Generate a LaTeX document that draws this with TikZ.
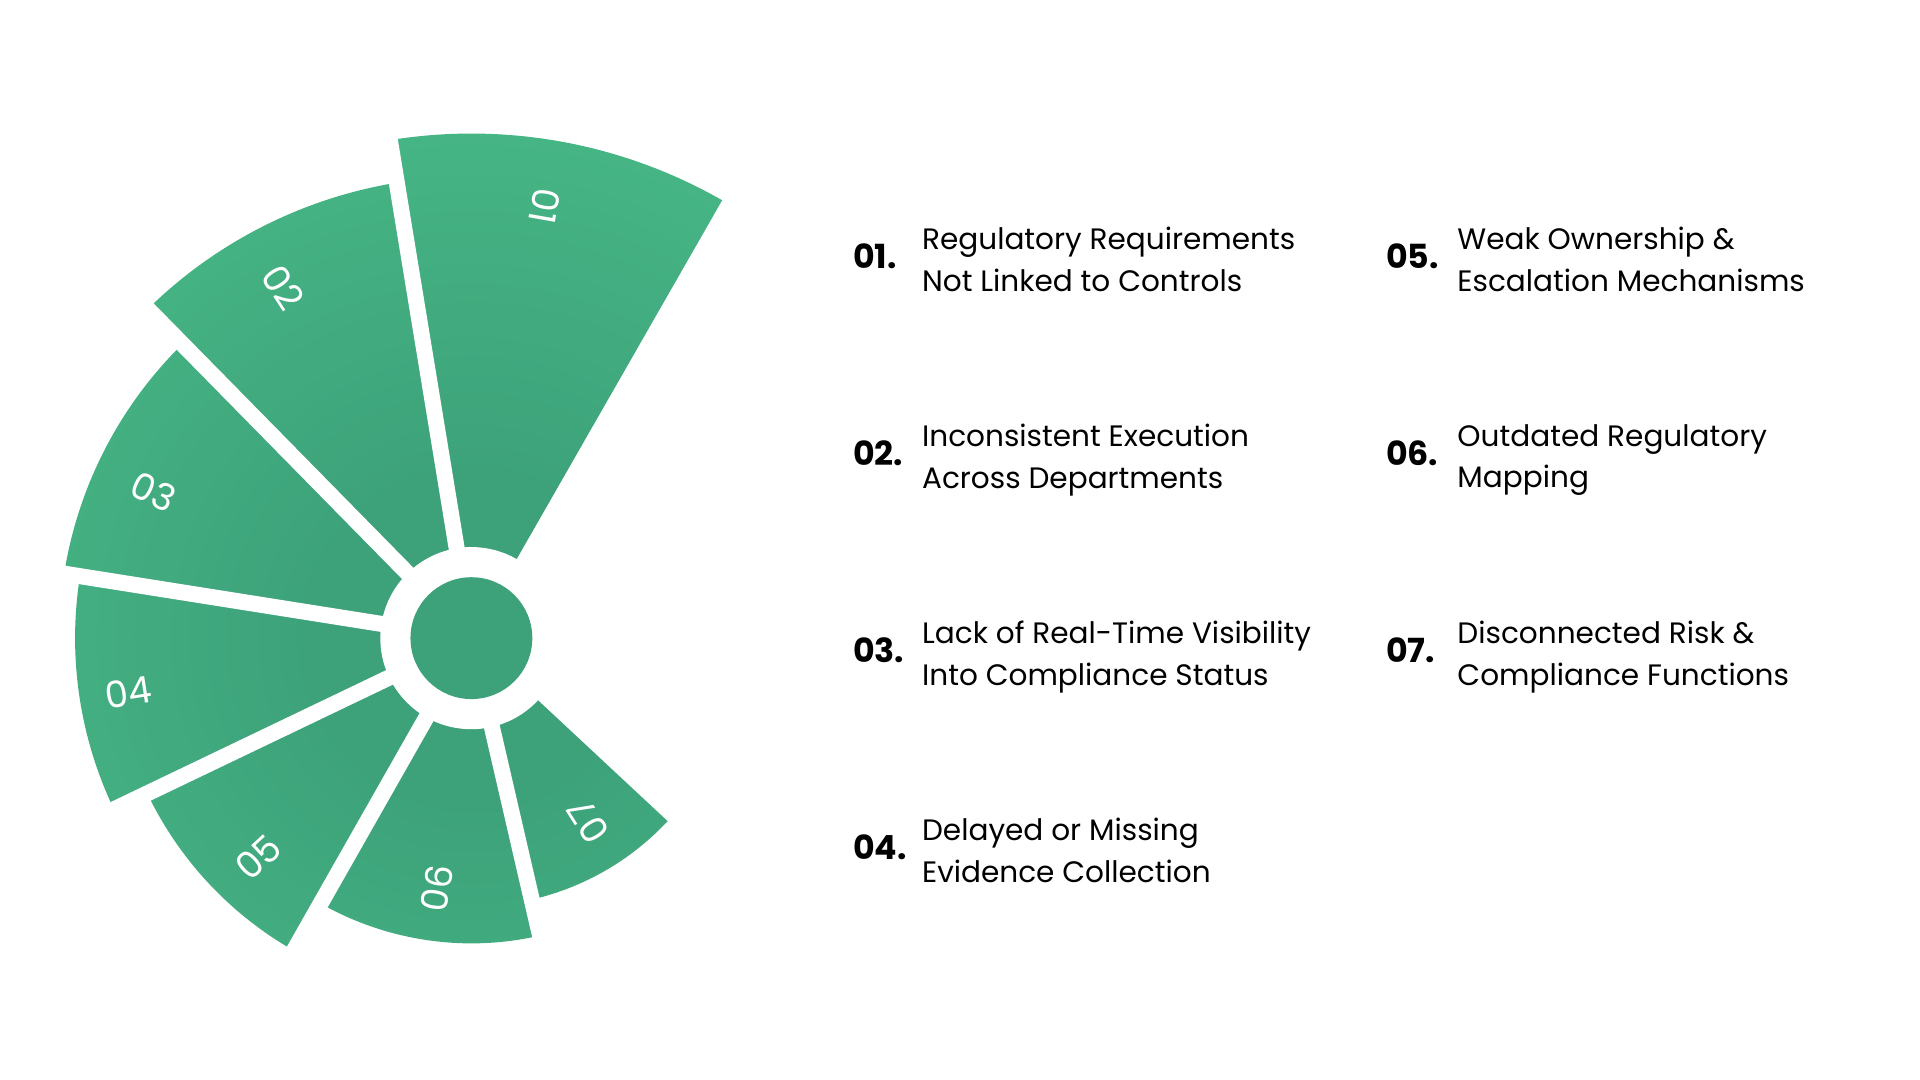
\documentclass[tikz,border=0pt]{standalone}
\usepackage{fontspec}
\setmainfont{Poppins}
\definecolor{gLight}{HTML}{4CC28C}
\definecolor{gDark}{HTML}{3DA27A}
\pgfdeclareradialshading{fan}{\pgfpoint{0bp}{0bp}}{color(0bp)=(gDark); color(8bp)=(gDark); color(36bp)=(gLight); color(50bp)=(gLight)}
\begin{document}
\begin{tikzpicture}[x=1pt,y=1pt,
  num/.style={text=white,font=\fontsize{30}{30}\selectfont,inner sep=0pt},
  gap/.style={white,line width=13pt},
  idx/.style={anchor=base west,font=\fontsize{27}{27}\selectfont\bfseries,inner sep=0pt},
  lbl/.style={anchor=north west,align=left,font=\fontsize{24}{34}\selectfont,inner sep=0pt}]
\useasboundingbox (0,0) rectangle (1560,877.5);
\coordinate (C) at (383,359);
\begin{scope}
\clip (C) -- ++(60.2:410) arc (60.2:99.3:410) -- cycle
      (C) -- ++(99.3:375) arc (99.3:134.5:375) -- cycle
      (C) -- ++(134.5:335) arc (134.5:171:335) -- cycle
      (C) -- ++(171:322) arc (171:205.6:322) -- cycle
      (C) -- ++(205.6:292) arc (205.6:240.4:292) -- cycle
      (C) -- ++(240.4:248) arc (240.4:283:248) -- cycle
      (C) -- ++(-77:218) arc (-77:-43:218) -- cycle;
\shade[shading=fan] (C) circle (420);
\end{scope}
\foreach \a in {99.3,134.5,171,205.6,240.4,283}{\draw[gap] (C) -- ++(\a:420);}
\fill[white] (C) circle (74);
\fill[gDark] (C) circle (49.5);
\node[num,rotate=-100] (n1) at (443,710) {01};
\node[num,rotate=-57] (n2) at (230,644) {02};
\node[num,rotate=-25] (n3) at (125,478) {03};
\node[num,rotate=9] (n4) at (104,315) {04};
\node[num,rotate=43] (n5) at (210,181) {05};
\node[num,rotate=81] (n6) at (355,156) {06};
\node[num,rotate=122.5] (n7) at (478,210) {07};
\node[idx] (i1) at (693,659) {01.};
\node[lbl] (t1) at (749,693) {Regulatory Requirements\\Not Linked to Controls};
\node[idx] (i2) at (693,499) {02.};
\node[lbl] (t2) at (749,533) {Inconsistent Execution\\Across Departments};
\node[idx] (i3) at (693,339) {03.};
\node[lbl] (t3) at (749,373) {Lack of Real-Time Visibility\\Into Compliance Status};
\node[idx] (i4) at (693,179) {04.};
\node[lbl] (t4) at (749,213) {Delayed or Missing\\Evidence Collection};
\node[idx] (i5) at (1126,659) {05.};
\node[lbl] (t5) at (1184,693) {Weak Ownership \&\\Escalation Mechanisms};
\node[idx] (i6) at (1126,499) {06.};
\node[lbl] (t6) at (1184,533) {Outdated Regulatory\\Mapping};
\node[idx] (i7) at (1126,339) {07.};
\node[lbl] (t7) at (1184,373) {Disconnected Risk \&\\Compliance Functions};
\end{tikzpicture}
\end{document}
